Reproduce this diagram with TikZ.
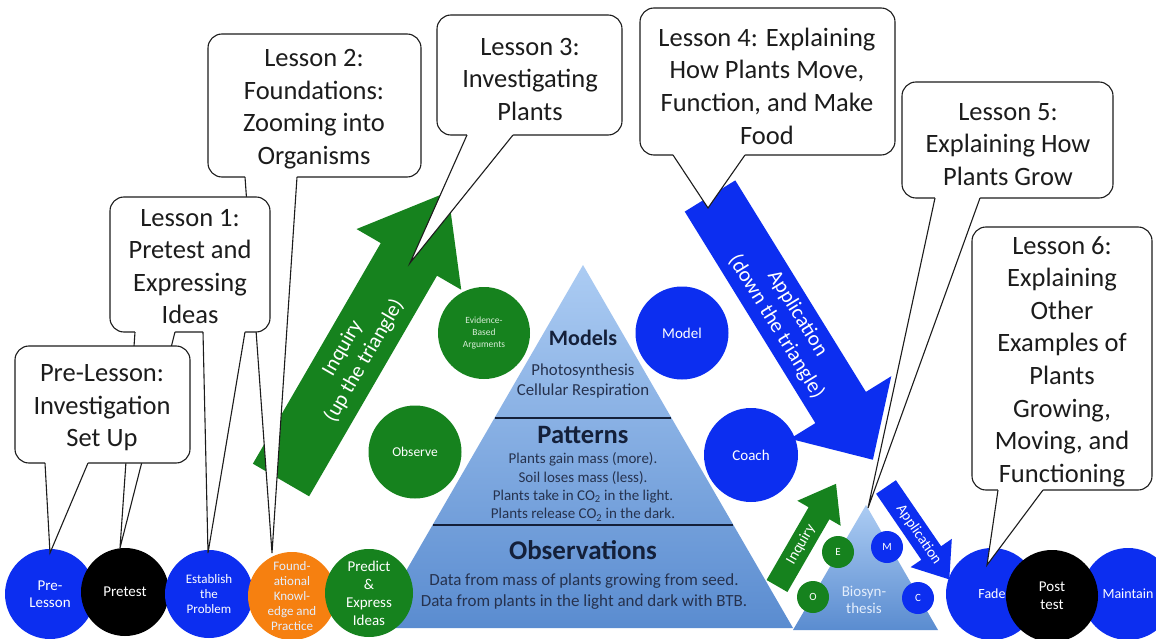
\documentclass[tikz,border=0pt]{standalone}
\usepackage{fontspec}
\setmainfont{Carlito}
\definecolor{cblue}{RGB}{12,46,240}
\definecolor{cgreen}{RGB}{22,130,30}
\definecolor{corange}{RGB}{246,128,16}
\definecolor{ptop}{RGB}{172,204,243}
\definecolor{pbot}{RGB}{90,140,208}
\definecolor{navy}{RGB}{20,32,58}
\definecolor{ptext}{RGB}{38,50,78}
\definecolor{ink}{RGB}{28,28,28}
\definecolor{paleg}{RGB}{215,236,215}
\definecolor{palebl}{RGB}{228,238,252}
\newcommand{\fsz}[2]{\fontsize{#1}{#2}\selectfont}
\newcommand{\calloutptr}[4]{%
  \fill[white] (#1,#3-3) -- (#1,#3) -- (#4) -- (#2,#3) -- (#2,#3-3) -- cycle;
  \draw[ptrline] (#1,#3) -- (#4) -- (#2,#3);}
\begin{document}
\begin{tikzpicture}[x=1pt,y=-1pt,
  bub/.style={draw=ink, line width=1.1pt, fill=white, rounded corners=14pt, inner sep=0pt},
  bubtext/.style={text=ink, align=center, font=\fsz{26.5}{32.6}, inner sep=0pt},
  disc/.style={circle, inner sep=0pt, minimum size=#1, align=center, text=white},
  ptrline/.style={draw=ink, line width=1.1pt, line join=miter},
  arrowtext/.style={text=white, align=center, inner sep=0pt},
  pyrtext/.style={text=ptext, align=center, inner sep=0pt},
  pyrhead/.style={text=navy, inner sep=0pt},
]
\useasboundingbox (0,0) rectangle (1156,639);
\fill[white] (0,0) rectangle (1156,639);

% ---------- big pyramid ----------
\shade[top color=ptop, bottom color=pbot] (583,265) -- (793,628) -- (373,628) -- cycle;
\draw[navy, line width=2.2pt] (494.6,418) -- (671.4,418);
\draw[navy, line width=2.2pt] (432.7,525) -- (733.3,525);
\node[pyrhead, font=\bfseries\fsz{22}{26}] (tModels) at (583,338) {Models};
\node[pyrtext, font=\fsz{16.8}{20}] (tModelsB) at (583,381) {Photosynthesis\\Cellular Respiration};
\node[pyrhead, font=\bfseries\fsz{26.5}{30}] (tPatterns) at (583,435) {Patterns};
\node[pyrtext, font=\fsz{15}{18.3}] (tPatternsB) at (583,487) {Plants gain mass (more).\\Soil loses mass (less).\\Plants take in CO\textsubscript{2} in the light.\\Plants release CO\textsubscript{2} in the dark.};
\node[pyrhead, font=\bfseries\fsz{27}{30}] (tObs) at (583,550) {Observations};
\node[pyrtext, font=\fsz{17}{21}] (tObsB) at (584,592) {Data from mass of plants growing from seed.\\Data from plants in the light and dark with BTB.};

% ---------- small triangle ----------
\shade[top color=ptop, bottom color=pbot] (866,505) -- (938,630) -- (793,630) -- cycle;

% ---------- arrows ----------
\begin{scope}[shift={(281,480)}, rotate=59.9]
  \fill[cgreen] (0,-32.5) -- (255,-32.5) -- (255,-60.5) -- (333,0) -- (255,60.5) -- (255,32.5) -- (0,32.5) -- cycle;
  \node[arrowtext, rotate=59.9, font=\fsz{21}{25}] (tInq) at (145,0) {Inquiry\\(up the triangle)};
\end{scope}
\begin{scope}[shift={(710,196)}, rotate=-58.3]
  \fill[cblue] (0,-29.7) -- (248.6,-29.7) -- (248.6,-59.5) -- (310,0) -- (248.6,59.5) -- (248.6,29.7) -- (0,29.7) -- cycle;
  \node[arrowtext, rotate=-58.3, font=\fsz{21}{25}] (tApp) at (146,0) {Application\\(down the triangle)};
\end{scope}
\begin{scope}[shift={(777,586)}, rotate=60]
  \fill[cgreen] (0,-12) -- (84,-12) -- (84,-25) -- (118,0) -- (84,25) -- (84,12) -- (0,12) -- cycle;
  \node[arrowtext, rotate=60, font=\fsz{15}{17}] (tInq2) at (48,0) {Inquiry};
\end{scope}
\begin{scope}[shift={(886,487)}, rotate=-55.6]
  \fill[cblue] (0,-12) -- (80,-12) -- (80,-25) -- (112,0) -- (80,25) -- (80,12) -- (0,12) -- cycle;
  \node[arrowtext, rotate=-55.6, font=\fsz{15}{17}] (tApp2) at (58,0) {Application};
\end{scope}

% ---------- middle circles ----------
\node[disc=92pt, fill=cgreen, text=paleg, font=\fsz{9.5}{12}] (EB) at (484,333) {Evidence-\\Based\\Arguments};
\node[disc=93pt, fill=cgreen, font=\fsz{13.5}{16}] (OB) at (415,452) {Observe};
\node[disc=93pt, fill=cblue, font=\fsz{15}{17}] (MO) at (682,333) {Model};
\node[disc=94pt, fill=cblue, font=\fsz{15}{17}] (CO) at (751,455) {Coach};

% ---------- small circles ----------
\node[disc=32pt, fill=cgreen, font=\fsz{11}{12}] (Ec) at (838,552) {E};
\node[disc=32pt, fill=cgreen, font=\fsz{11}{12}] (Oc) at (813,597) {O};
\node[disc=32pt, fill=cblue, font=\fsz{11}{12}] (Mc) at (887,547) {M};
\node[disc=32pt, fill=cblue, font=\fsz{11}{12}] (Cc) at (918,598) {C};
\node[text=palebl, align=center, font=\fsz{15}{17}, inner sep=0pt] (tBio) at (864,600) {Biosyn-\\thesis};

% ---------- bottom circles ----------
\node[disc=90pt, fill=cblue, font=\fsz{15}{17}] (PLc) at (50,594) {Pre-\\Lesson};
\node[disc=88pt, fill=black, font=\fsz{15}{17}] (PTc) at (125,592) {Pretest};
\node[disc=88pt, fill=cblue, font=\fsz{13}{15}] (EPc) at (209,594) {Establish\\the\\Problem};
\node[disc=88pt, fill=corange, text=palebl, font=\fsz{13}{15}] (FKc) at (292,596) {Found-\\ational\\Knowl-\\edge and\\Practice};
\node[disc=88pt, fill=cgreen, font=\fsz{15}{18}] (PEc) at (369,593) {Predict\\\&\\Express\\Ideas};
\node[disc=92pt, fill=cblue, font=\fsz{14}{16}] (FAc) at (992,594) {Fade};
\node[disc=92pt, fill=cblue, font=\fsz{14}{16}] (MAc) at (1128,594) {Maintain};
\node[disc=92pt, fill=black, font=\fsz{15}{18}] (POc) at (1052,596) {Post\\test};

% ---------- callout tips ----------
\coordinate (tipPL) at (50,553);
\coordinate (tipPT) at (120,548);
\coordinate (tipEP) at (208,553);
\coordinate (tipFK) at (272,553);
\coordinate (tipL3) at (410,263);
\coordinate (tipL4) at (708,208);
\coordinate (tipL5) at (868,508);
\coordinate (tipL6) at (987,565);

% Lesson 2
\node[bub, minimum width=213pt, minimum height=143pt] (bL2) at (314.5,105.5) {};
\calloutptr{245}{297}{177}{tipFK}
\node[bubtext] (tL2) at (314,109) {Lesson 2:\\Foundations:\\Zooming into\\Organisms};

% Lesson 1
\node[bub, minimum width=160pt, minimum height=135pt] (bL1) at (190,264.5) {};
\calloutptr{135}{175}{332}{tipPT}
\calloutptr{203}{245}{332}{tipEP}
\node[bubtext] (tL1) at (190,266.5) {Lesson 1:\\Pretest and\\Expressing\\Ideas};

% Pre-Lesson
\node[bub, minimum width=175pt, minimum height=117pt] (bPL) at (102.5,404.5) {};
\calloutptr{45}{88}{463}{tipPL}
\node[bubtext] (tPL) at (102,408) {Pre-Lesson:\\Investigation\\Set Up};

% Lesson 3
\node[bub, minimum width=185pt, minimum height=120pt] (bL3) at (529.5,75) {};
\calloutptr{467}{513}{135}{tipL3}
\node[bubtext] (tL3) at (530,79.5) {Lesson 3:\\Investigating\\Plants};

% Lesson 4
\node[bub, minimum width=255pt, minimum height=147pt] (bL4) at (767.5,81.5) {};
\calloutptr{673}{745}{155}{tipL4}
\node[bubtext] (tL4) at (767,86) {Lesson 4: Explaining\\How Plants Move,\\Function, and Make\\Food};

% Lesson 5
\node[bub, minimum width=211pt, minimum height=116pt] (bL5) at (1007.5,140) {};
\calloutptr{935}{980}{198}{tipL5}
\node[bubtext] (tL5) at (1008,144.5) {Lesson 5:\\Explaining How\\Plants Grow};

% Lesson 6
\node[bub, minimum width=180pt, minimum height=263pt] (bL6) at (1062,358.5) {};
\calloutptr{998}{1043}{490}{tipL6}
\node[bubtext] (tL6) at (1062,361.5) {Lesson 6:\\Explaining\\Other\\Examples of\\Plants\\Growing,\\Moving, and\\Functioning};
\end{tikzpicture}
\end{document}
